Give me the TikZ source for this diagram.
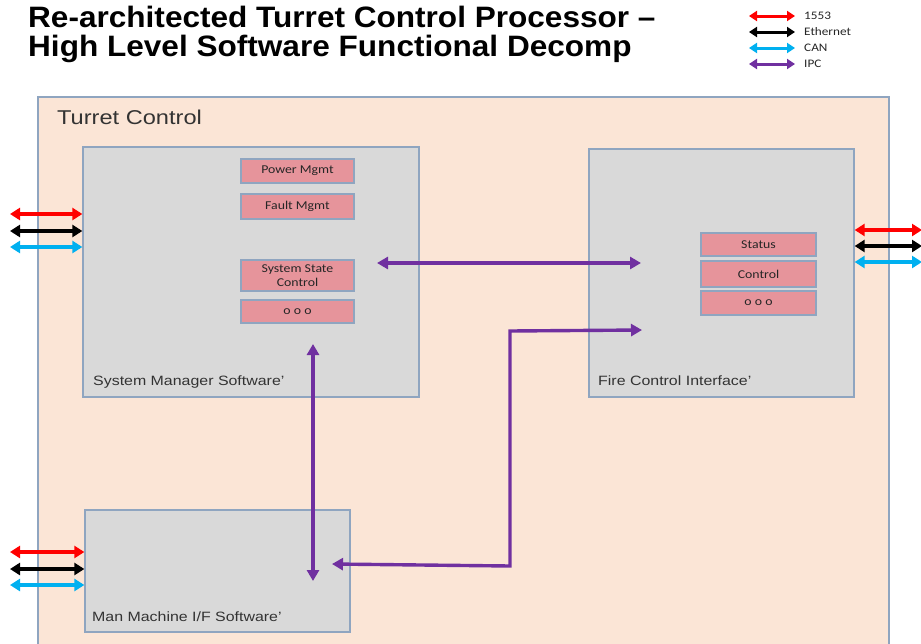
\documentclass[tikz,border=0pt]{standalone}
\usepackage{fontspec}
\setmainfont[FakeStretch=1.18]{Liberation Sans}
\newfontfamily\titlefont[FakeStretch=1.07]{Liberation Sans}
\newfontfamily\calib[FakeStretch=1.15]{Carlito}
\usetikzlibrary{arrows.meta}
\definecolor{peach}{HTML}{FBE5D6}
\definecolor{boxgray}{HTML}{D9D9D9}
\definecolor{edgeblue}{HTML}{8FA5C0}
\definecolor{pinkfill}{HTML}{E6949B}
\definecolor{redc}{HTML}{FF0000}
\definecolor{cyanc}{HTML}{00B0F0}
\definecolor{purplec}{HTML}{7030A0}
\tikzset{
  x=1pt,y=-1pt,
  outerbox/.style={draw=edgeblue,fill=peach,line width=1.3pt,rectangle,inner sep=0pt},
  swbox/.style={draw=edgeblue,fill=boxgray,line width=1.3pt,rectangle,inner sep=0pt},
  pinkbox/.style={draw=edgeblue,fill=pinkfill,line width=1.2pt,rectangle,inner sep=0pt,
    font=\calib\fontsize{12}{12}\selectfont,text=black!85,align=center},
  lbl/.style={anchor=base west,inner sep=0pt,text=black!80,font=\fontsize{13.5}{14}\selectfont},
  bus/.style={line width=3.6pt,{Triangle[length=10pt,width=12pt]}-{Triangle[length=10pt,width=12pt]}},
  legbus/.style={line width=3pt,{Triangle[length=8pt,width=10pt]}-{Triangle[length=8pt,width=10pt]}},
  ipc/.style={draw=purplec,line width=3.4pt,{Triangle[length=11pt,width=12pt]}-{Triangle[length=11pt,width=12pt]}},
  legtxt/.style={anchor=west,inner sep=0pt,font=\calib\fontsize{11.5}{11.5}\selectfont,text=black!85}
}
\begin{document}
\begin{tikzpicture}
\clip (0,0) rectangle (921,643);
\fill[white] (0,0) rectangle (921,643);
% title
\node[anchor=base west,inner sep=0pt,font=\titlefont\bfseries\fontsize{29.5}{31}\selectfont] (t1) at (28,27) {Re-architected Turret Control Processor –};
\node[anchor=base west,inner sep=0pt,font=\titlefont\bfseries\fontsize{29.5}{31}\selectfont] (t2) at (28,56) {High Level Software Functional Decomp};
% legend
\coordinate (lg1a) at (749,16); \coordinate (lg1b) at (795,16);
\coordinate (lg2a) at (749,32); \coordinate (lg2b) at (795,32);
\coordinate (lg3a) at (749,48); \coordinate (lg3b) at (795,48);
\coordinate (lg4a) at (749,64); \coordinate (lg4b) at (795,64);
\draw[legbus,redc] (lg1a) -- (lg1b);
\draw[legbus,black] (lg2a) -- (lg2b);
\draw[legbus,cyanc] (lg3a) -- (lg3b);
\draw[legbus,purplec] (lg4a) -- (lg4b);
\node[legtxt] (lt1) at (804,16) {1553};
\node[legtxt] (lt2) at (804,32) {Ethernet};
\node[legtxt] (lt3) at (804,48) {CAN};
\node[legtxt] (lt4) at (804,64) {IPC};
% outer
\node[outerbox,minimum width=851pt,minimum height=563pt] (TC) at (463.5,378.5) {};
\node[lbl,font=\fontsize{20}{22}\selectfont] (TCl) at (57,124) {Turret Control};
% software boxes
\node[swbox,minimum width=336pt,minimum height=250pt] (SM) at (251,272) {};
\node[swbox,minimum width=265pt,minimum height=248pt] (FC) at (721.5,273) {};
\node[swbox,minimum width=265pt,minimum height=122pt] (MM) at (217.5,571) {};
\node[lbl] (SMl) at (93,385) {System Manager Software'};
\node[lbl] (FCl) at (598,385) {Fire Control Interface'};
\node[lbl] (MMl) at (92,621) {Man Machine I/F Software'};
% pink boxes
\node[pinkbox,minimum width=113pt,minimum height=24pt] (pm) at (297.5,171) {Power Mgmt};
\node[pinkbox,minimum width=113pt,minimum height=25pt] (fm) at (297.5,206.5) {Fault Mgmt};
\node[pinkbox,minimum width=113pt,minimum height=31pt,font=\calib\fontsize{12}{13.5}\selectfont] (ssc) at (297.5,275.5) {System State\\Control};
\node[pinkbox,minimum width=113pt,minimum height=23pt] (o1) at (297.5,311.5) {o o o};
\node[pinkbox,minimum width=115pt,minimum height=23pt] (st) at (758.5,244.5) {Status};
\node[pinkbox,minimum width=115pt,minimum height=26pt] (ct) at (758.5,274) {Control};
\node[pinkbox,minimum width=115pt,minimum height=24pt] (o2) at (758.5,303) {o o o};
% external buses
\coordinate (L1) at (10,214); \coordinate (L2) at (10,231); \coordinate (L3) at (10,247);
\draw[bus,redc] (L1) -- (L1 -| SM.west);
\draw[bus,black] (L2) -- (L2 -| SM.west);
\draw[bus,cyanc] (L3) -- (L3 -| SM.west);
\coordinate (R1) at (922,230); \coordinate (R2) at (922,246); \coordinate (R3) at (922,262);
\draw[bus,redc] (R1 -| FC.east) -- (R1);
\draw[bus,black] (R2 -| FC.east) -- (R2);
\draw[bus,cyanc] (R3 -| FC.east) -- (R3);
\coordinate (B1) at (10,552); \coordinate (B2) at (10,569); \coordinate (B3) at (10,585);
\draw[bus,redc] (B1) -- (B1 -| MM.west);
\draw[bus,black] (B2) -- (B2 -| MM.west);
\draw[bus,cyanc] (B3) -- (B3 -| MM.west);
% IPC
\coordinate (smR) at (377,263); \coordinate (fcL) at (641,263);
\draw[ipc] (smR) -- (fcL);
\coordinate (smB) at (313,344); \coordinate (mmT) at (313,581);
\draw[ipc] (smB) -- (mmT);
\coordinate (mmR) at (332,564); \coordinate (fcL2) at (642,330);
\draw[ipc] (mmR) -- (510,566) -- (510,331) -- (fcL2);
\end{tikzpicture}
\end{document}
